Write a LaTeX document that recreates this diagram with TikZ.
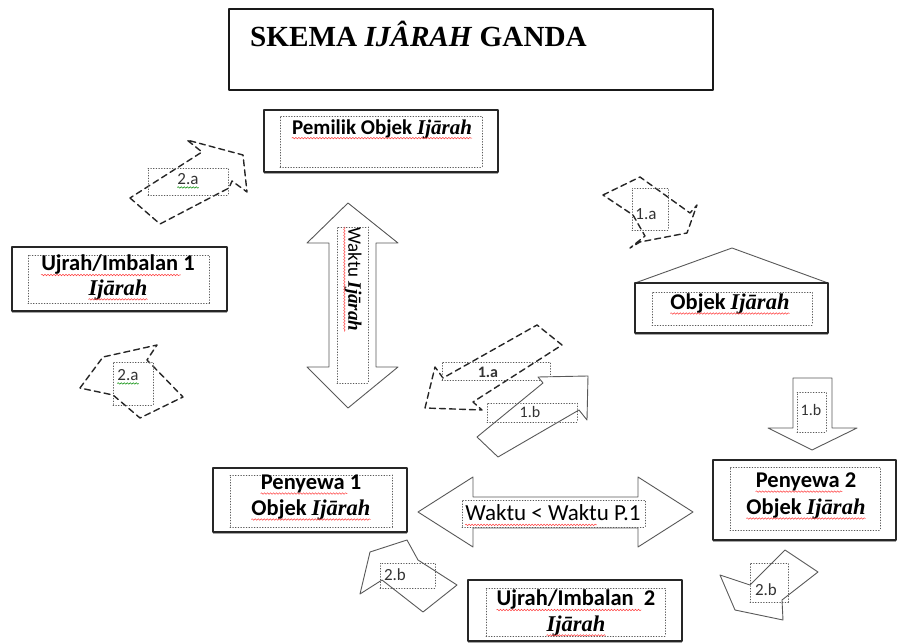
\documentclass[tikz,border=0pt]{standalone}
\usepackage{fontspec}
\setmainfont{Liberation Serif}
\setsansfont{Carlito}
\usetikzlibrary{shadows,decorations.pathmorphing}
\newcommand{\ijr}[1]{{\rmfamily\bfseries\itshape #1}}
\begin{document}
\begin{tikzpicture}[x=1pt, y=-1pt, line join=round, line cap=round]
\tikzset{
  tbox/.style={draw=black!90, line width=1.2pt, inner sep=0pt},
  obox/.style={draw=black!85, fill=white, line width=1.1pt, inner sep=0pt,
    drop shadow={shadow xshift=0pt, shadow yshift=-1.6pt, fill=black!35, opacity=1}},
  ibox/.style={draw=black!65, dotted, line width=0.7pt, inner sep=0pt},
  blk/.style={draw=black!65, fill=white, line width=0.9pt},
  dsh/.style={draw=black!85, fill=white, line width=1.4pt, dash pattern=on 6pt off 4pt},
  lbl/.style={inner sep=0pt, font=\sffamily\bfseries\fontsize{22.5}{25}\selectfont},
  tag/.style={inner sep=0pt, text=black!80, font=\sffamily\fontsize{17}{19}\selectfont},
  spell/.style={draw=red!75, line width=0.5pt, line cap=butt, decorate,
    decoration={snake, amplitude=0.8pt, segment length=3pt}},
  gspell/.style={spell, draw=green!55!black}
}
\useasboundingbox (0,0) rectangle (898,644);

% judul
\node[tbox, minimum width=484pt, minimum height=81pt] (judul) at (471,49.5) {};
\node[anchor=base west, inner sep=0pt, font=\rmfamily\bfseries\fontsize{29.2}{31}\selectfont]
  (judulTx) at (250,47) {SKEMA \textit{IJÂRAH} GANDA};

% pemilik objek
\node[obox, minimum width=234pt, minimum height=62pt] (pemilik) at (381,141) {};
\node[ibox, minimum width=202pt, minimum height=51pt] (pemilikIn) at (381,141.5) {};
\node[lbl, font=\sffamily\bfseries\fontsize{21}{24}\selectfont] (pemilikTx) at (382,129)
  {Pemilik Objek \ijr{Ijārah}};
\draw[spell] ([yshift=-4pt]pemilikTx.base west) -- ([yshift=-4pt]pemilikTx.base east);

% ujrah 1
\node[obox, minimum width=215pt, minimum height=64pt] (ujrah1) at (119.5,279) {};
\node[ibox, minimum width=181pt, minimum height=48pt] (ujrah1In) at (118.5,279) {};
\node[lbl] (ujrah1Tx) at (118,265) {Ujrah/Imbalan 1};
\node[lbl] (ujrah1Ij) at (118,290) {\ijr{Ijārah}};
\draw[spell] ([yshift=-4pt]ujrah1Tx.base west) -- ([yshift=-4pt,xshift=-14pt]ujrah1Tx.base east);
\draw[spell] ([yshift=-4pt]ujrah1Ij.base west) -- ([yshift=-4pt]ujrah1Ij.base east);

% objek ijarah (rumah)
\draw[blk] (635,283) -- (732,248) -- (828,283) -- cycle;
\node[obox, minimum width=193pt, minimum height=50pt] (objek) at (731.5,308) {};
\node[ibox, minimum width=160pt, minimum height=33pt] (objekIn) at (732,308.5) {};
\node[lbl] (objekTx) at (730,304) {Objek \ijr{Ijārah}};
\draw[spell] ([yshift=-4pt]objekTx.base west) -- ([yshift=-4pt]objekTx.base east);

% waktu ijarah
\draw[blk] (348,203) -- (398,243) -- (376,243) -- (376,367) -- (398,367) -- (348,408)
  -- (307,367) -- (329,367) -- (329,243) -- (307,243) -- cycle;
\node[ibox, minimum width=31pt, minimum height=156pt] (waktuIn) at (352.5,305) {};
\node[lbl, rotate=-90, anchor=west, font=\sffamily\fontsize{19}{21}\selectfont]
  (waktuTx) at (353,227) {Waktu \ijr{Ijārah}};
\draw[spell] ([xshift=-4pt]waktuTx.base west) -- ([xshift=-4pt]waktuTx.base east);

% panah 2.a atas
\draw[dsh] (130,198) -- (160,224) -- (229,188) -- (232,181) -- (247,192) -- (243,155)
  -- (187,140) -- (202,152) -- cycle;
\node[ibox, minimum width=80pt, minimum height=27pt] (a2atasIn) at (188,181.5) {};
\node[tag] (a2atas) at (188,179) {2.a};
\draw[gspell] ([yshift=-3pt]a2atas.base west) -- ([yshift=-3pt]a2atas.base east);

% panah 1.a kanan
\draw[dsh] (603,195) -- (640,177) -- (690,213) -- (697,205) -- (687,233) -- (640,242)
  -- (630,248) -- (645,236) -- (633,215) -- cycle;
\node[ibox, minimum width=36pt, minimum height=42pt] (a1kananIn) at (650,209) {};
\node[tag] (a1kanan) at (646,214) {1.a};

% panah 2.a kiri
\draw[dsh] (80,388) -- (103,357) -- (157,345) -- (147,360) -- (183,397) -- (140,418)
  -- (113,395) -- cycle;
\node[ibox, minimum width=40pt, minimum height=43pt] (a2kiriIn) at (133,383.5) {};
\node[tag] (a2kiri) at (128,375) {2.a};
\draw[gspell] ([yshift=-3pt]a2kiri.base west) -- ([yshift=-3pt]a2kiri.base east);

% panah 1.a tengah
\draw[dsh] (425,408) -- (435,367) -- (443,378) -- (537,325) -- (562,345) -- (473,402)
  -- (482,410) -- cycle;
\node[ibox, minimum width=108pt, minimum height=18pt] (a1tengahIn) at (496,371) {};
\node[tag, font=\sffamily\bfseries\fontsize{16}{18}\selectfont] (a1tengah) at (488,372) {1.a};

% panah 1.b tengah
\draw[blk] (477,437) -- (543,383) -- (538,377) -- (588,376) -- (587,420) -- (579,410)
  -- (498,457) -- cycle;
\node[ibox, minimum width=90pt, minimum height=19pt] (b1tengahIn) at (532,412.5) {};
\node[tag, font=\sffamily\fontsize{16}{18}\selectfont] (b1tengah) at (530,412) {1.b};

% panah 1.b kanan
\draw[blk] (793,378) -- (832,378) -- (832,428) -- (857,428) -- (812,450) -- (768,428)
  -- (793,428) -- cycle;
\node[ibox, minimum width=29pt, minimum height=40pt] (b1kananIn) at (811.5,412) {};
\node[tag, font=\sffamily\fontsize{16}{18}\selectfont] (b1kanan) at (811,410) {1.b};

% penyewa 1
\node[obox, minimum width=194pt, minimum height=64pt] (penyewa1) at (310,500) {};
\node[ibox, minimum width=162pt, minimum height=52pt] (penyewa1In) at (311,501) {};
\node[lbl] (penyewa1Tx) at (311,484) {Penyewa 1};
\node[lbl] (penyewa1Ob) at (311,510) {Objek \ijr{Ijārah}};
\draw[spell] ([yshift=-4pt]penyewa1Tx.base west) -- ([yshift=-4pt,xshift=-14pt]penyewa1Tx.base east);
\draw[spell] ([yshift=-4pt]penyewa1Ob.base west) -- ([yshift=-4pt]penyewa1Ob.base east);

% waktu < waktu p.1
\draw[blk] (418,512) -- (473,477) -- (473,497) -- (638,497) -- (638,477) -- (693,512)
  -- (638,547) -- (638,528) -- (473,528) -- (473,547) -- cycle;
\node[ibox, minimum width=183pt, minimum height=27pt] (waktu2In) at (553.5,513.5) {};
\node[inner sep=0pt, font=\sffamily\fontsize{23}{25}\selectfont] (waktu2Tx) at (553,513)
  {Waktu < Waktu P.1};
\draw[spell] ([yshift=-4pt]waktu2Tx.base west) -- ([yshift=-4pt,xshift=-44pt]waktu2Tx.base east);

% penyewa 2
\node[obox, minimum width=183pt, minimum height=80pt] (penyewa2) at (804.5,500) {};
\node[ibox, minimum width=150pt, minimum height=63pt] (penyewa2In) at (805,498.5) {};
\node[lbl] (penyewa2Tx) at (806,482) {Penyewa 2};
\node[lbl] (penyewa2Ob) at (806,509) {Objek \ijr{Ijārah}};
\draw[spell] ([yshift=-4pt]penyewa2Tx.base west) -- ([yshift=-4pt,xshift=-14pt]penyewa2Tx.base east);
\draw[spell] ([yshift=-4pt]penyewa2Ob.base west) -- ([yshift=-4pt]penyewa2Ob.base east);

% panah 2.b kiri
\draw[blk] (407,540) -- (370,552) -- (360,594) -- (382,580) -- (423,612) -- (457,585)
  -- (418,560) -- cycle;
\node[ibox, minimum width=55pt, minimum height=25pt] (b2kiriIn) at (407.5,575.5) {};
\node[tag] (b2kiri) at (395,575) {2.b};

% ujrah 2
\node[obox, minimum width=214pt, minimum height=61pt] (ujrah2) at (575,610.5) {};
\node[ibox, minimum width=179pt, minimum height=48pt] (ujrah2In) at (575.5,612) {};
\node[lbl] (ujrah2Tx) at (576,600) {Ujrah/Imbalan\ \ 2};
\node[lbl] (ujrah2Ij) at (576,626) {\ijr{Ijārah}};
\draw[spell] ([yshift=-4pt]ujrah2Tx.base west) -- ([yshift=-4pt,xshift=-14pt]ujrah2Tx.base east);
\draw[spell] ([yshift=-4pt]ujrah2Ij.base west) -- ([yshift=-4pt]ujrah2Ij.base east);

% panah 2.b kanan
\draw[blk] (720,575) -- (750,585) -- (785,550) -- (818,572) -- (782,600) -- (783,620)
  -- (735,610) -- cycle;
\node[ibox, minimum width=38pt, minimum height=39pt] (b2kananIn) at (769,582.5) {};
\node[tag] (b2kanan) at (766,590) {2.b};
\end{tikzpicture}
\end{document}
